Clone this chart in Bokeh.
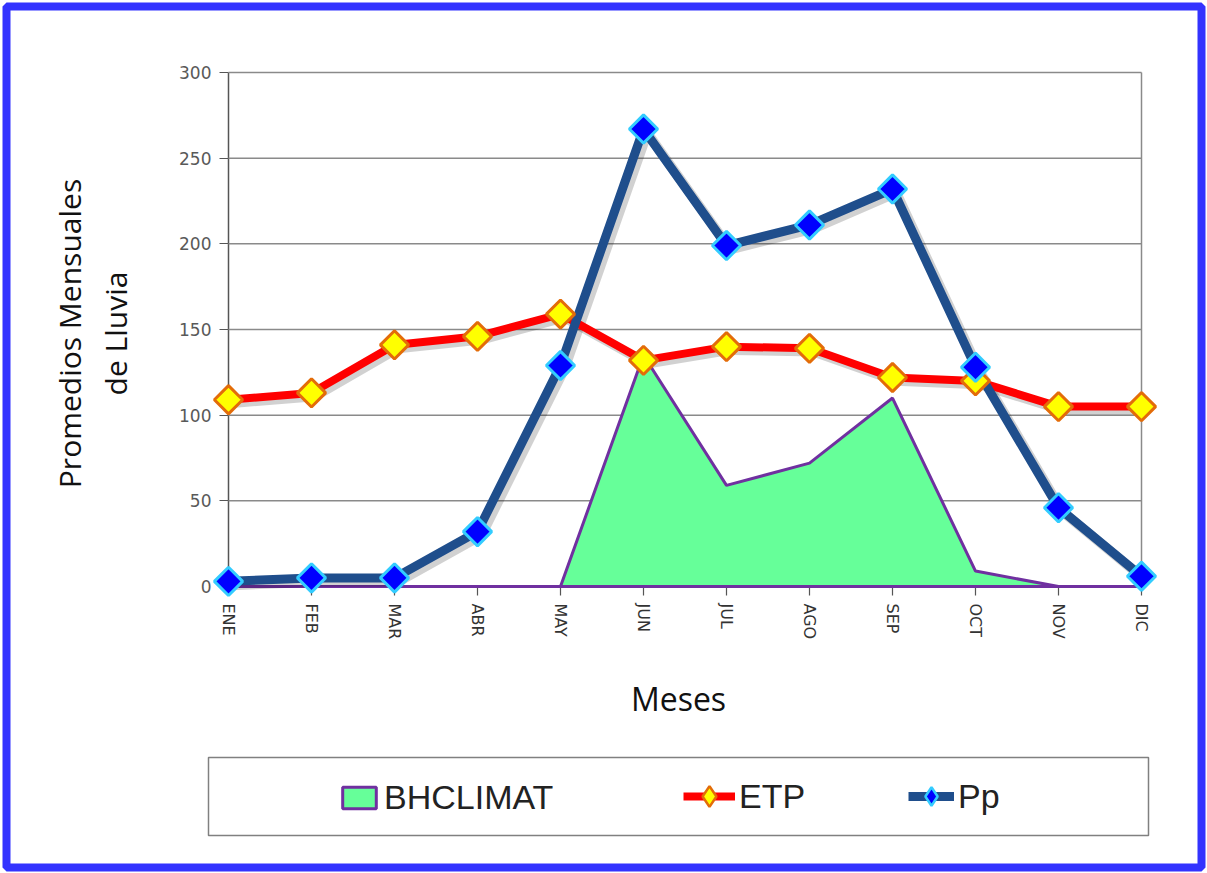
import math
from bokeh.plotting import figure
from bokeh.models import Range1d, FixedTicker, Legend, LegendItem, BoxAnnotation, Label
from bokeh.embed import file_html
from bokeh.resources import INLINE

# Monthly data
months = ["ENE", "FEB", "MAR", "ABR", "MAY", "JUN", "JUL", "AGO", "SEP", "OCT", "NOV", "DIC"]
pp = [3, 5, 5, 32, 129, 267, 199, 211, 232, 128, 46, 6]
etp = [109, 113, 141, 146, 159, 132, 140, 139, 122, 120, 105, 105]
bhclimat = [0, 0, 0, 0, 0, 135, 59, 72, 110, 9, 0, 0]
y_ticks = [0, 50, 100, 150, 200, 250, 300]

x = list(range(len(months)))
x_first, x_last = x[0], x[-1]
y_top = y_ticks[-1]

W, H = 1207, 873
# data box spans canvas px 228..1141 horizontally and 72..586 vertically;
# the frame covers the whole canvas so titles, legend and axes are not cut
px_x = (1141 - 228) / (x_last - x_first)
px_y = (586 - 72) / (y_top - y_ticks[0])
x_rng = Range1d(x_first - 228 / px_x, x_last + (W - 1141) / px_x)
y_rng = Range1d(y_ticks[0] - (H - 586) / px_y, y_top + 72 / px_y)

p = figure(width=W, height=H, output_backend="svg", toolbar_location=None,
           x_range=x_rng, y_range=y_rng,
           min_border=0, min_border_left=0, min_border_right=0,
           min_border_top=0, min_border_bottom=0,
           background_fill_color="white", border_fill_color="white",
           outline_line_color=None)

p.xgrid.visible = False
p.ygrid.visible = False

# horizontal gridlines and right-hand border of the data box
p.segment(x0=[x_first] * len(y_ticks), x1=[x_last] * len(y_ticks), y0=y_ticks, y1=y_ticks,
          line_color="#8a8a8a", line_width=1.5)
p.segment(x0=[x_last], x1=[x_last], y0=[y_ticks[0]], y1=[y_top],
          line_color="#8a8a8a", line_width=1.5)

# axes sit on the data box edges (x=0 / y=0) and stay under the series
for ax in (p.xaxis[0], p.yaxis[0]):
    ax.fixed_location = 0
    ax.level = "underlay"
    ax.axis_line_color = "#555555"
    ax.axis_line_width = 1.5
    ax.major_tick_line_color = "#555555"
    ax.major_tick_line_width = 1.2
    ax.minor_tick_line_color = None
    ax.major_tick_in = 0
    ax.major_tick_out = 9

p.yaxis.bounds = (y_ticks[0], y_top)
p.yaxis.ticker = FixedTicker(ticks=y_ticks)
p.yaxis.major_label_text_font = "DejaVu Sans"
p.yaxis.major_label_text_font_size = "17px"
p.yaxis.major_label_text_color = "#595959"
p.yaxis.major_label_standoff = 8

p.xaxis.bounds = (x_first, x_last)
p.xaxis.ticker = FixedTicker(ticks=x)
p.xaxis.major_label_overrides = {i: m for i, m in zip(x, months)}
p.xaxis.major_label_orientation = "vertical"
p.xaxis.major_label_text_font = "DejaVu Sans"
p.xaxis.major_label_text_font_size = "16px"
p.xaxis.major_label_text_color = "#333333"
p.xaxis.major_label_standoff = 8

# water surplus area
area = p.patch(x, bhclimat, fill_color="#66FF99", line_color="#7030A0", line_width=3)

# soft drop shadows under the two series
sdx, sdy = 0.045, -2.2
p.line([v + sdx for v in x], [v + sdy for v in etp], line_color="black", line_alpha=0.18, line_width=9)
p.line([v + sdx for v in x], [v + sdy for v in pp], line_color="black", line_alpha=0.18, line_width=10)

etp_line = p.line(x, etp, line_color="#FF0000", line_width=8)
pp_line = p.line(x, pp, line_color="#1F4E8C", line_width=9)
etp_pts = p.scatter(x, etp, marker="square", angle=math.pi / 4, size=20,
                    fill_color="#FFFF00", line_color="#E36C09", line_width=3)
pp_pts = p.scatter(x, pp, marker="square", angle=math.pi / 4, size=20,
                   fill_color="#0000FF", line_color="#33CCFF", line_width=3)

# diamond keys shown only in the legend (a single undefined point, never drawn)
nan = float("nan")
etp_key = p.scatter([nan], [nan], marker="diamond", fill_color="#FFFF00",
                    line_color="#E36C09", line_width=2.5)
pp_key = p.scatter([nan], [nan], marker="diamond", fill_color="#0000FF",
                   line_color="#33CCFF", line_width=2.5)

legend_style = dict(orientation="horizontal", padding=0, margin=0, label_standoff=4,
                    label_text_font="Liberation Sans", label_text_font_size="34px",
                    label_text_color="#222222", border_line_color=None,
                    background_fill_alpha=0)
p.add_layout(Legend(items=[LegendItem(label="BHCLIMAT", renderers=[area])],
                    location=(338, 56), glyph_width=42, glyph_height=27, **legend_style))
p.add_layout(Legend(items=[LegendItem(label="ETP", renderers=[etp_line, etp_key])],
                    location=(683, 46), glyph_width=52, glyph_height=62, **legend_style))
p.add_layout(Legend(items=[LegendItem(label="Pp", renderers=[pp_line, pp_key])],
                    location=(908, 46), glyph_width=46, glyph_height=62, **legend_style))

# legend frame
p.add_layout(BoxAnnotation(left=208, right=1148, top=757, bottom=835,
                           left_units="canvas", right_units="canvas",
                           top_units="canvas", bottom_units="canvas",
                           fill_alpha=0, line_color="#808080", line_alpha=1,
                           line_width=1.5))

# page frame
p.add_layout(BoxAnnotation(left=6, right=1201, top=6, bottom=867,
                           left_units="canvas", right_units="canvas",
                           top_units="canvas", bottom_units="canvas",
                           fill_alpha=0, line_color="#3333FF", line_alpha=1,
                           line_width=8))

# axis titles
for txt, cx in (("Promedios Mensuales", 69), ("de Lluvia", 115)):
    p.add_layout(Label(x=cx, y=333, x_units="canvas", y_units="canvas", text=txt,
                       angle=math.pi / 2, text_align="center", text_baseline="middle",
                       text_font="Open Sans", text_font_size="30px", text_color="#111111"))
p.add_layout(Label(x=678, y=698, x_units="canvas", y_units="canvas", text="Meses",
                   text_align="center", text_baseline="middle",
                   text_font="Open Sans", text_font_size="32px", text_color="#111111"))

open("out.html", "w").write(file_html(p, INLINE))
